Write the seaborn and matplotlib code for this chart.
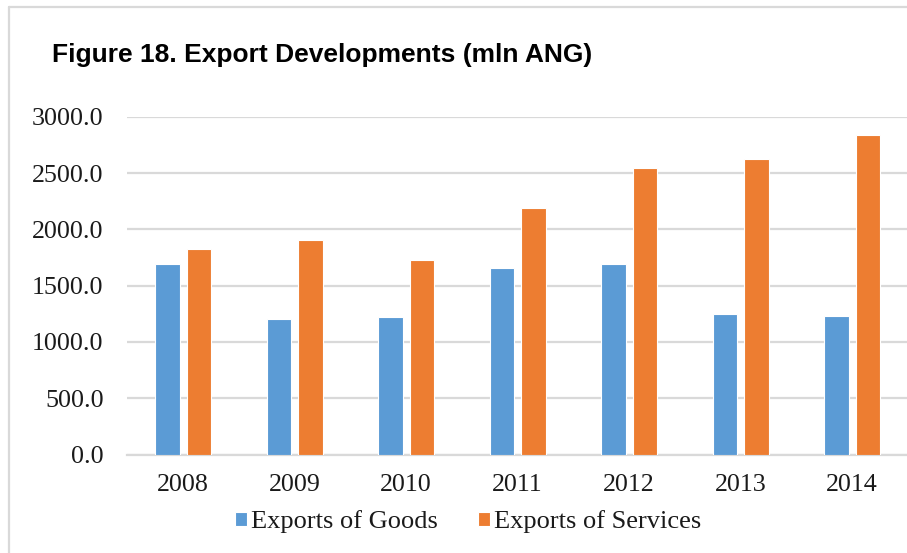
import matplotlib
matplotlib.use("Agg")
import matplotlib.pyplot as plt
from matplotlib.lines import Line2D
import seaborn as sns
import pandas as pd

# Export values, mln ANG
years = ["2008", "2009", "2010", "2011", "2012", "2013", "2014"]
goods = [1692, 1200, 1224, 1654, 1689, 1245, 1233]
services = [1825, 1905, 1725, 2189, 2542, 2621, 2837]
series_names = ["Exports of Goods", "Exports of Services"]
y_ticks = [0, 500, 1000, 1500, 2000, 2500, 3000]

df = pd.DataFrame({
    "year": years * 2,
    "value": goods + services,
    "series": [series_names[0]] * len(years) + [series_names[1]] * len(years),
})

sns.set_theme(style="white")
plt.rcParams["font.family"] = ["Liberation Serif", "DejaVu Serif"]

W, H = 907, 553
fig = plt.figure(figsize=(W / 100, H / 100), dpi=100)
fig.patch.set_facecolor("white")

# plot area in pixel coordinates
x0, x1 = 127.3, 907.8
y_top, y_zero = 116.7, 454.5
ax = fig.add_axes([x0 / W, (H - y_zero) / H, (x1 - x0) / W, (y_zero - y_top) / H])

sns.barplot(
    data=df, x="year", y="value", hue="series",
    palette=["#5B9BD5", "#ED7D31"], saturation=1, width=0.565, gap=0.22,
    edgecolor="white", linewidth=0.8, ax=ax, zorder=3,
)

ax.set_xlim(-0.5, len(years) - 0.5)
ax.set_ylim(0, 3000)
ax.set_yticks(y_ticks)
ax.set_yticklabels([f"{v:.1f}" for v in y_ticks])
ax.set_xlabel("")
ax.set_ylabel("")
ax.grid(axis="y", color="#D9D9D9", linewidth=1.6, zorder=0)
ax.set_axisbelow(True)
for side in ["top", "right", "left"]:
    ax.spines[side].set_visible(False)
ax.spines["bottom"].set_color("#D9D9D9")
ax.spines["bottom"].set_linewidth(1.6)
ax.tick_params(axis="y", length=0, pad=17, labelsize=18.7, labelcolor="#1a1a1a")
ax.tick_params(axis="x", length=0, pad=14, labelsize=18.7, labelcolor="#1a1a1a")

# legend below the plot
handles, labels = ax.get_legend_handles_labels()
if ax.get_legend() is not None:
    ax.get_legend().remove()
fig.legend(
    handles, labels, loc="center", bbox_to_anchor=(468 / W, (H - 522) / H),
    ncol=2, frameon=False, fontsize=19, handlelength=0.46, handleheight=0.46,
    handletextpad=0.15, columnspacing=1.5, borderaxespad=0, borderpad=0,
    labelcolor="#1a1a1a",
)

# title
fig.text(52 / W, (H - 62) / H, "Figure 18. Export Developments (mln ANG)",
         fontsize=19, fontweight="bold", family=["Liberation Sans", "DejaVu Sans"],
         ha="left", va="baseline", color="black")

# chart area border (top and left edges)
fig.add_artist(Line2D([9 / W, 1.01], [(H - 7.3) / H] * 2, transform=fig.transFigure,
                      color="#D9D9D9", linewidth=1.6))
fig.add_artist(Line2D([9 / W] * 2, [(H - 7.3) / H, -0.01], transform=fig.transFigure,
                      color="#D9D9D9", linewidth=1.6))

fig.savefig("out.png", dpi=100)
